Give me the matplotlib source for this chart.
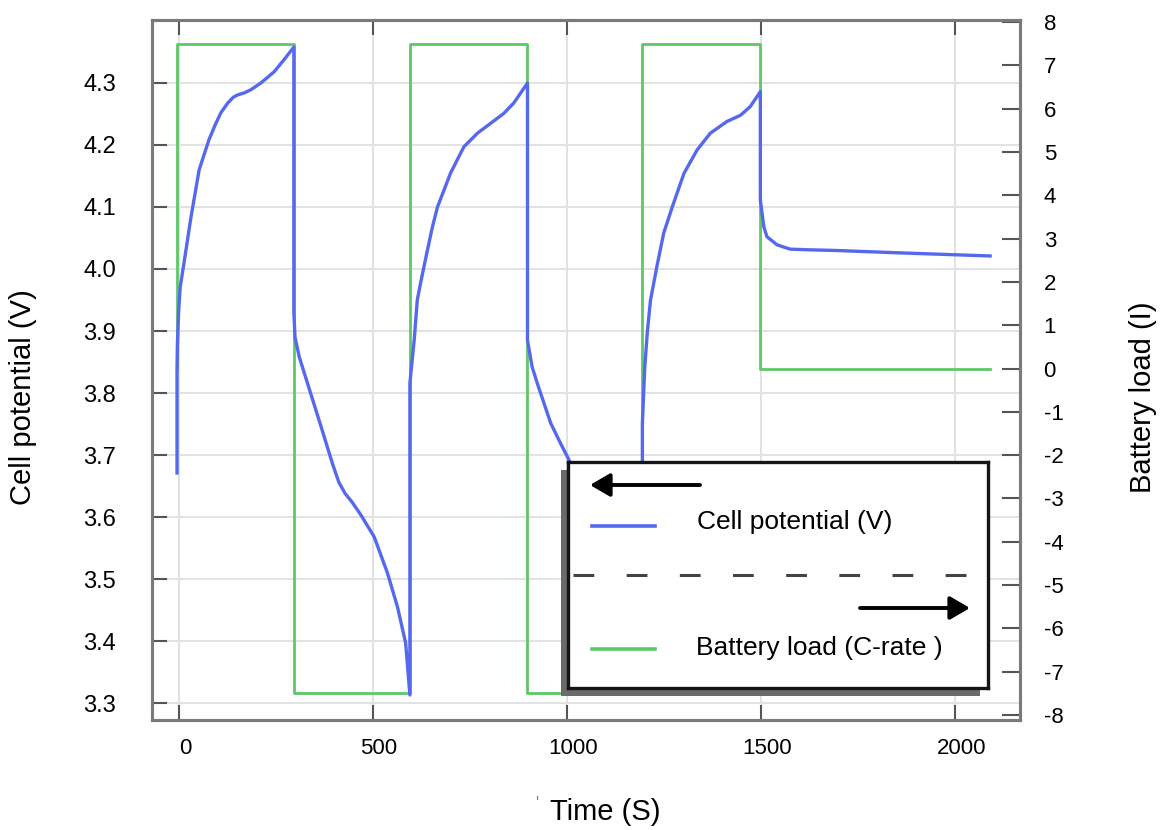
import matplotlib
matplotlib.use('Agg')
import matplotlib.pyplot as plt
import matplotlib.transforms as mtrans
from matplotlib.patches import Rectangle

# ---------------- data ----------------
time_v = [-5, -5, -4, -1, 3, 13, 31, 52, 77, 93, 108, 126, 140, 152, 168, 185, 211, 245, 270, 296,
          296, 299, 310, 331, 366, 396, 412, 428, 446, 468, 503, 537, 563, 584, 595,
          595, 606, 614, 625, 640, 652, 666, 700, 734, 769, 803, 837, 863, 898,
          898, 910, 923, 958, 983, 1009, 1028, 1070, 1105, 1139, 1165, 1182, 1192, 1194,
          1194, 1200, 1207, 1215, 1232, 1249, 1271, 1301, 1335, 1369, 1412, 1447, 1472, 1498,
          1498, 1507, 1515, 1541, 1575, 1620, 1687, 1858, 2090]
cell_v = [3.671, 3.84, 3.88, 3.93, 3.97, 4.01, 4.084, 4.16, 4.208, 4.232, 4.252, 4.268, 4.277, 4.281, 4.284, 4.289, 4.30, 4.318, 4.337, 4.358,
          3.93, 3.89, 3.858, 3.816, 3.746, 3.685, 3.656, 3.638, 3.624, 3.604, 3.568, 3.51, 3.455, 3.397, 3.313,
          3.816, 3.885, 3.95, 3.985, 4.03, 4.065, 4.10, 4.155, 4.197, 4.219, 4.235, 4.251, 4.268, 4.30,
          3.885, 3.842, 3.816, 3.751, 3.719, 3.687, 3.655, 3.62, 3.585, 3.535, 3.48, 3.43, 3.37, 3.33,
          3.75, 3.84, 3.90, 3.95, 4.006, 4.058, 4.10, 4.154, 4.192, 4.219, 4.238, 4.248, 4.262, 4.286,
          4.111, 4.068, 4.052, 4.039, 4.032, 4.031, 4.030, 4.026, 4.021]

load_t = [-5, -5, 296, 595, 898, 1194, 1498, 2090]
load_c = [0, 7.5, -7.5, 7.5, -7.5, 7.5, 0, 0]

x_ticks = [0, 500, 1000, 1500, 2000]
v_ticks = [3.3, 3.4, 3.5, 3.6, 3.7, 3.8, 3.9, 4.0, 4.1, 4.2, 4.3]
v_labels = ['3.3', '3.4', '3.5', '3.6', '3.7', '3.8', '3.9', '4.0', '4.1', '4.2', '4.3']
c_ticks = list(range(-8, 9))
c_labels = [str(v) for v in c_ticks]

legend_labels = ['Cell potential (V)', 'Battery load (C-rate )']
xlabel = 'Time (S)'
ylabel_left = 'Cell potential (V)'
ylabel_right = 'Battery load (I)'

# ---------------- style ----------------
BLUE = '#5569ee'
GREEN = '#5dc866'
SPINE = '#7a7a7a'
SANS = ['Liberation Sans', 'DejaVu Sans']
plt.rcParams['font.family'] = SANS

W, H = 1166, 830
fig = plt.figure(figsize=(W / 100, H / 100), dpi=100, facecolor='white')
ax = fig.add_axes([152 / W, 1 - 720 / H, 868 / W, 700 / H])
ax2 = ax.twinx()

ax.set_xlim(-69.5, 2167)
ax.set_ylim(3.2726, 4.4016)
ax2.set_ylim(-8.115, 8.046)

ax.set_xticks(x_ticks)
ax.set_xticklabels([str(v) for v in x_ticks], fontsize=16)
ax.set_yticks(v_ticks)
ax.set_yticklabels(v_labels, fontsize=17)
ax.grid(True, color='#e2e2e2', lw=1.4)
ax.set_axisbelow(True)

ax2.set_yticks(c_ticks)
ax2.set_yticklabels(c_labels, fontsize=16)

ax.tick_params(axis='x', which='both', direction='in', top=True, bottom=True,
               length=11, width=1.5, color='#555555', pad=13)
ax.tick_params(axis='y', which='both', direction='in', left=True, right=False,
               length=11, width=1.5, color='#555555', pad=26)
ax2.tick_params(axis='y', which='both', direction='in', right=True, left=False,
                length=13, width=1.5, color='#555555', pad=17)

for lbl in ax.get_xticklabels():
    lbl.set_transform(lbl.get_transform() + mtrans.ScaledTranslation(6 / 100, 0, fig.dpi_scale_trans))

for a in (ax, ax2):
    for s in a.spines.values():
        s.set_color(SPINE)
        s.set_linewidth(2.2)

# lines (green under blue)
ax2.step(load_t, load_c, where='post', color=GREEN, lw=2.0, zorder=2)
ax2.plot(time_v, cell_v, color=BLUE, lw=2.4, zorder=3, transform=ax.transData,
         solid_joinstyle='round')

# axis labels
fig.text(23 / W, 1 - 397 / H, ylabel_left, rotation=90, ha='center', va='center', fontsize=21)
fig.text(1143 / W, 1 - 397 / H, ylabel_right, rotation=90, ha='center', va='center', fontsize=21)
fig.text(605 / W, 1 - 812 / H, xlabel, ha='center', va='center', fontsize=21)
fig.text(537 / W, 1 - 803 / H, "'", ha='center', va='center', fontsize=12, color='#888888')

# ---------------- custom legend ----------------
lx0, ly0, lx1, ly1 = 568, 462, 988, 688
shadow = Rectangle(((lx0 - 7) / W, 1 - (ly1 + 8) / H), (lx1 - lx0 - 1) / W, (ly1 - ly0) / H,
                   transform=fig.transFigure, facecolor='#6a6a6a', edgecolor='none', zorder=4)
fig.patches.append(shadow)
lax = fig.add_axes([lx0 / W, 1 - ly1 / H, (lx1 - lx0) / W, (ly1 - ly0) / H], zorder=5)
lax.set_xlim(0, 1)
lax.set_ylim(0, 1)
lax.set_xticks([])
lax.set_yticks([])
lax.set_facecolor('white')
for s in lax.spines.values():
    s.set_color('#151515')
    s.set_linewidth(2.4)


def fx(px):
    return (px - lx0) / (lx1 - lx0)


def fy(py):
    return (ly1 - py) / (ly1 - ly0)


arrow_style = dict(arrowstyle='-|>,head_length=0.55,head_width=0.32', lw=2.8, color='black',
                   mutation_scale=22, shrinkA=0, shrinkB=0)
lax.annotate('', xy=(fx(590), fy(485)), xytext=(fx(700), fy(485)), arrowprops=arrow_style)
lax.annotate('', xy=(fx(970), fy(608)), xytext=(fx(860), fy(608)), arrowprops=arrow_style)

lax.plot([fx(592), fx(655)], [fy(526), fy(526)], color=BLUE, lw=2.6)
lax.plot([fx(592), fx(655)], [fy(649), fy(649)], color=GREEN, lw=2.6)
lax.text(fx(697), fy(522), legend_labels[0], ha='left', va='center', fontsize=19)
lax.text(fx(696), fy(648), legend_labels[1], ha='left', va='center', fontsize=19)
lax.plot([fx(573), 1], [fy(575), fy(575)], color='#444444', lw=2.2,
         linestyle=(0, (6.8, 10.6)))

fig.savefig('out.png', dpi=100, facecolor='white')
